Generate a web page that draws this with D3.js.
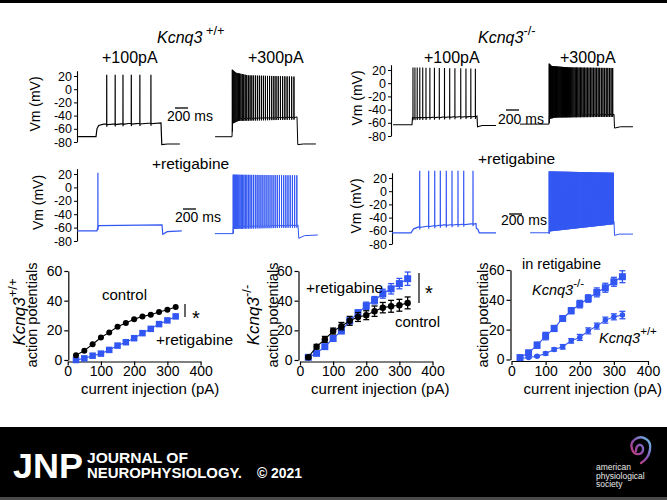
<!DOCTYPE html>
<html><head><meta charset="utf-8">
<script src="https://cdn.jsdelivr.net/npm/d3@7"></script>
<style>
body{margin:0;background:#fff}
svg{display:block}
text{font-family:"Liberation Sans",Arial,sans-serif;fill:#000;font-weight:normal}
</style>
</head><body>
<script>
// ================= DATA =================
// Bottom plots: number of action potentials vs current injection (pA)
const currentInj = [25,50,75,100,125,150,175,200,225,250,275,300,325];
const wtControlAP = [3.2,6.3,10.6,15.2,18.6,22.4,24.9,27.4,29.4,30.5,32.4,33.9,35.7];
const wtRetigAP   = [0,1.1,2.9,4.3,6.8,9.7,12,14.7,18.1,21,24.2,26.7,29.4];
const koControlAP  = [1.8,9,13.9,19.5,22.8,26.4,29,30.2,32.9,35.3,36.2,36.9,38.5];
const koControlSEM = [1,1.5,2,2,2.5,3,3,3,3.5,3.5,4,4,4];
const koRetigAP    = [1.8,4.5,9,14.5,19.7,26.4,31.8,36.5,40.3,44.7,48,51.5,54.8];
const koRetigSEM   = [1,1,1.5,1.5,2,2,2,2.5,2.5,3,3.5,3.5,4.5];
const retigKoAP    = [1.3,4.5,9.6,15.7,20.8,27.5,32.7,37.1,40.9,45,48.1,52.1,55.5];
const retigKoSEM   = [1,1.5,2,2.5,2,1.5,2,2.5,2.5,3,3,3,4];
const retigWtAP    = [0.7,1.3,2.2,4,6.7,8.5,12.5,14.8,19.2,22.4,26.4,28.6,29.8];
const retigWtSEM   = [0.5,0.5,0.5,1,1,1.5,1.5,2,2,2,2,2,2.5];
const apTicks = [0,20,40,60];
const currentTicks = [0,100,200,300,400];
const vmTicks = [20,0,-20,-40,-60,-80];

// Voltage traces: envelope knots [ms from step onset, mV], spike times (ms), peak knots [ms, mV]
const wt100Env = [[-275,-72],[0,-72],[15,-60],[40,-55],[120,-53],[500,-52],[1000,-51],[1012,-84],[1100,-83],[1290,-83]];
const wt100Spikes = [165,295,415,543,675,845];
const wt100Peak = [[0,22],[1000,22]];

const wt300Env = [[-260,-72],[0,-72],[10,-48],[100,-44],[1000,-42],[1012,-84],[1100,-83],[1290,-83]];
const wt300Spikes = [5,18,32,47,63,80,98,117,137,158,180,203,227,252,278,305,333,362,391,421,452,483,514,546,578,611,644,677,711,745,779,813,848,883,918,953];
const wt300Peak = [[0,30],[60,25],[250,21],[1000,19]];

const wtR100Env = [[-305,-65],[0,-65],[10,-60],[30,-57],[1000,-56],[1012,-70],[1080,-66],[1305,-65]];
const wtR100Spikes = [14];
const wtR100Peak = [[0,22],[1000,22]];

const wtR300Env = [[-280,-69],[0,-69],[8,-58],[1000,-56],[1012,-76],[1100,-72],[1305,-71]];
const wtR300Spikes = [3,15,28,42,57,73,90,108,127,147,168,190,213,237,262,288,315,343,371,400,430,460,491,522,553,585,617,649,681,714,747,780,813,846,880,914,948,982];
const wtR300Peak = [[0,19],[1000,18]];

const ko100Env = [[-292,-63],[0,-63],[8,-52],[1000,-50],[1008,-66],[1080,-64],[1292,-64]];
const ko100Spikes = [15,45,80,120,165,215,275,345,420,500,580,660,750,830,905,975];
const ko100Peak = [[0,24],[1000,22]];

const ko300Env = [[-446,-62],[0,-62],[6,-50],[100,-48],[1000,-47],[1008,-68],[1100,-66],[1292,-66]];
const ko300Spikes = [3,12,22,32,43,54,65,77,89,101,114,127,140,153,167,181,195,209,224,239,254,269,285,301,317,333,350,367,385,404,423,443,463,484,505,526,548,570,592,615,638,661,684,708,732,756,780,805,830,855,880,905,930,955,980];
const ko300Peak = [[0,30],[40,26],[300,24],[1000,23]];

const koR100Env = [[-292,-63],[0,-63],[40,-57],[120,-54],[500,-51],[1000,-49],[1005,-56],[1030,-58],[1050,-63],[1308,-63]];
const koR100Spikes = [134,272,365,451,543,631,723,811,954];
const koR100Peak = [[0,31],[1000,31]];

const koR300Env = [[-290,-63],[0,-63],[5,-57],[1000,-46],[1008,-67],[1080,-65],[1292,-65]];
const koR300Spikes = [2,12,23,33,44,55,65,76,87,98,109,119,130,141,152,163,174,185,196,207,218,229,240,251,262,273,284,296,307,318,329,340,351,363,374,385,396,407,419,430,441,452,463,475,486,497,508,520,531,542,553,565,576,587,598,610,621,632,643,655,666,677,688,700,711,722,733,745,756,767,778,790,801,812,823,835,846,857,868,880,891,902,913,925,936,947,958,970,981,992];
const koR300Peak = [[0,30],[1000,28]];

// ================= DRAW =================
const BLUE = "#3156f2";
const svg = d3.select("body").append("svg").attr("width",667).attr("height",500);
svg.append("rect").attr("width",667).attr("height",500).attr("fill","#fff");
svg.append("rect").attr("width",667).attr("height",3).attr("fill","#000");

const PXMS = 0.065; // px per ms (200 ms scale bar = 13 px)

function vmAxis(x, yTop20, yBot80, label, labelX) {
  const y = d3.scaleLinear().domain([-80,20]).range([yBot80, yTop20]);
  const yAx = d3.scaleLinear().domain([-80,28]).range([yBot80, y(28)]);
  const g = svg.append("g").attr("transform",`translate(${x},0)`)
    .call(d3.axisLeft(yAx).tickValues(vmTicks).tickSize(3).tickSizeOuter(0).tickPadding(2)
      .tickFormat(d=>d));
  g.selectAll("text").style("font-size","12.5px");
  g.select(".domain").attr("stroke-width",1.1);
  svg.append("text").attr("transform",`translate(${labelX},${(y(20)+y(-80))/2 - 5}) rotate(-90)`)
    .attr("text-anchor","middle").style("font-size","14px").text(label);
  return y;
}

function drawTrace(y, onsetX, env, spikes, peaks, color, w) {
  const x = t => onsetX + t*PXMS;
  const envS = d3.scaleLinear().domain(env.map(d=>d[0])).range(env.map(d=>d[1]));
  const pkS = d3.scaleLinear().domain(peaks.map(d=>d[0])).range(peaks.map(d=>d[1])).clamp(true);
  let pts = env.map(d=>[d[0],d[1]]);
  spikes.forEach(t=>{
    const b = envS(t);
    pts.push([t-0.6,b],[t,pkS(t)],[t+0.8,b-4],[t+2,b-1]);
  });
  pts.sort((a,b)=>a[0]-b[0]);
  const line = d3.line().x(d=>x(d[0])).y(d=>y(d[1]));
  svg.append("path").attr("d",line(pts)).attr("fill","none").attr("stroke",color)
    .attr("stroke-width",w).attr("stroke-linejoin","miter");
}

function scaleBar(textX, baseY, barY) {
  svg.append("text").attr("x",textX).attr("y",baseY).style("font-size","14px").text("200 ms");
  svg.append("line").attr("x1",textX+8).attr("x2",textX+8+200*PXMS).attr("y1",barY).attr("y2",barY)
    .attr("stroke","#000").attr("stroke-width",1.3);
}

function label(x,y,txt,size,anchor,opts={}) {
  const t = svg.append("text").attr("x",x).attr("y",y).style("font-size",size+"px")
    .attr("text-anchor",anchor||"start").text(txt);
  if (opts.italic) t.style("font-style","italic");
  return t;
}

// --- Titles ---
function genoTitle(x, y, sup, size) {
  const t = svg.append("text").attr("x",x).attr("y",y).attr("text-anchor","start")
    .style("font-size",size+"px");
  t.append("tspan").style("font-style","italic").text("Kcnq3");
  t.append("tspan").attr("dy",-8).style("font-size",(size*0.8)+"px").text(sup);
  return t;
}
genoTitle(157, 43, " +/+", 16);
genoTitle(478, 43, "-/-", 16);
label(102, 63, "+100pA", 16);
label(248, 63, "+300pA", 16);
label(424, 63, "+100pA", 16);
label(560, 63, "+300pA", 16);
label(152, 169, "+retigabine", 15.5);
label(478, 164, "+retigabine", 15.5);

// --- Traces panels ---
const yTL = vmAxis(77, 76, 142, "Vm (mV)", 40);
drawTrace(yTL, 96, wt100Env, wt100Spikes, wt100Peak, "#000", 1.2);
drawTrace(yTL, 232, wt300Env, wt300Spikes, wt300Peak, "#000", 1);
scaleBar(167, 121, 108);

const yTR = vmAxis(391, 70, 136, "Vm (mV)", 362);
drawTrace(yTR, 412, ko100Env, ko100Spikes, ko100Peak, "#000", 1.1);
drawTrace(yTR, 549, ko300Env, ko300Spikes, ko300Peak, "#000", 1);
scaleBar(498, 124, 110);

const yBL = vmAxis(77, 174, 241, "Vm (mV)", 43);
drawTrace(yBL, 97, wtR100Env, wtR100Spikes, wtR100Peak, BLUE, 1.2);
drawTrace(yBL, 233, wtR300Env, wtR300Spikes, wtR300Peak, BLUE, 1);
scaleBar(175, 222, 209);

const yBR = vmAxis(392, 178, 244, "Vm (mV)", 361);
drawTrace(yBR, 411, koR100Env, koR100Spikes, koR100Peak, BLUE, 1.2);
drawTrace(yBR, 549, koR300Env, koR300Spikes, koR300Peak, BLUE, 1);
scaleBar(501, 225, 214);

// --- Bottom plots ---
function plot(cfg) {
  const x = d3.scaleLinear().domain([0,400]).range([cfg.x0, cfg.x1]);
  const y = d3.scaleLinear().domain([0,60]).range([cfg.y0, cfg.y60]);
  const ya = svg.append("g").attr("transform",`translate(${cfg.yAxisX},0)`)
    .call(d3.axisLeft(y).tickValues(apTicks).tickSize(4).tickSizeOuter(0).tickPadding(2));
  const xa = svg.append("g").attr("transform",`translate(0,${cfg.y0+1.5})`)
    .call(d3.axisBottom(x).tickValues(currentTicks).tickSize(4).tickSizeOuter(0).tickPadding(1));
  [ya,xa].forEach(a=>{ a.selectAll("text").style("font-size","14px"); a.select(".domain").attr("stroke-width",1.2); a.selectAll(".tick line").attr("stroke-width",1.2);});
  svg.append("text").attr("transform",`translate(${cfg.ylabX},315) rotate(-90)`)
    .attr("text-anchor","middle").style("font-size","14.5px").text("action potentials");
  svg.append("text").attr("x",(cfg.x0+cfg.x1)/2 + cfg.xlabDx).attr("y",394).attr("text-anchor","middle")
    .style("font-size","15px").text("current injection (pA)");
  cfg.series.forEach(s=>{
    const line = d3.line().x((d,i)=>x(currentInj[i])).y(d=>y(d));
    svg.append("path").attr("d",line(s.values)).attr("fill","none").attr("stroke",s.color).attr("stroke-width",1.1);
    if (s.sem) {
      s.values.forEach((v,i)=>{
        const cx = x(currentInj[i]), e = s.sem[i];
        const g = svg.append("g").attr("stroke",s.color).attr("stroke-width",1.3);
        g.append("line").attr("x1",cx).attr("x2",cx).attr("y1",y(v-e)).attr("y2",y(v+e));
        g.append("line").attr("x1",cx-3).attr("x2",cx+3).attr("y1",y(v-e)).attr("y2",y(v-e));
        g.append("line").attr("x1",cx-3).attr("x2",cx+3).attr("y1",y(v+e)).attr("y2",y(v+e));
      });
    }
    s.values.forEach((v,i)=>{
      const cx = x(currentInj[i]), cy = y(v);
      if (s.shape==="square") svg.append("rect").attr("x",cx-s.size/2).attr("y",cy-s.size/2)
          .attr("width",s.size).attr("height",s.size).attr("fill",s.color);
      else svg.append("circle").attr("cx",cx).attr("cy",cy).attr("r",s.size/2).attr("fill",s.color);
    });
  });
}

plot({x0:67.7, x1:200.6, y0:360, y60:271, yAxisX:68.3, ylabX:37, xlabDx:16,
  series:[
    {values:wtRetigAP, color:BLUE, shape:"square", size:6.5},
    {values:wtControlAP, color:"#000", shape:"circle", size:6}
  ]});
plot({x0:300, x1:432.5, y0:360, y60:271, yAxisX:298.5, ylabX:278, xlabDx:14,
  series:[
    {values:koRetigAP, sem:koRetigSEM, color:BLUE, shape:"square", size:7},
    {values:koControlAP, sem:koControlSEM, color:"#000", shape:"circle", size:6.5}
  ]});
plot({x0:511.5, x1:648, y0:359.5, y60:270, yAxisX:510.5, ylabX:488, xlabDx:13,
  series:[
    {values:retigWtAP, sem:retigWtSEM, color:BLUE, shape:"circle", size:5.5},
    {values:retigKoAP, sem:retigKoSEM, color:BLUE, shape:"square", size:7}
  ]});

// rotated genotype labels for left side
function rotGeno(x, yMid, sup) {
  const t = svg.append("text").attr("transform",`translate(${x},${yMid}) rotate(-90)`)
    .attr("text-anchor","middle").style("font-size","17px");
  t.append("tspan").style("font-style","italic").text("Kcnq3");
  t.append("tspan").attr("dy",-8).style("font-size","13px").text(sup);
}
rotGeno(25, 312, "+/+");
rotGeno(259, 315, "-/-");

// annotations
label(102, 300, "control", 15);
label(156, 345, "+retigabine", 15.5);
svg.append("line").attr("x1",185).attr("x2",185).attr("y1",304).attr("y2",317).attr("stroke","#000").attr("stroke-width",1.2);
label(196, 325, "*", 20, "middle");

label(306, 293, "+retigabine", 15.5);
label(395, 327, "control", 15);
svg.append("line").attr("x1",419).attr("x2",419).attr("y1",273).attr("y2",303).attr("stroke","#000").attr("stroke-width",1.2);
label(429, 300, "*", 20, "middle");

label(522, 269, "in retigabine", 14.5);
genoTitle(532, 295, "-/-", 14.5);
genoTitle(599, 343, "+/+", 14.5);

// ================= FOOTER =================
svg.append("rect").attr("y",427).attr("width",667).attr("height",73).attr("fill","#000");
svg.append("rect").attr("y",497).attr("width",667).attr("height",3).attr("fill","#4a4a4a");
const ft = (x,y,txt,size,len) => {
  const t = svg.append("text").attr("x",x).attr("y",y).style("font-size",size+"px")
    .style("font-weight","bold").style("fill","#fff").text(txt);
  if (len) t.attr("textLength",len).attr("lengthAdjust","spacingAndGlyphs");
  return t;
};
ft(13, 478, "JNP", 35, 70);
ft(87, 462.5, "JOURNAL OF", 14, 101);
ft(87, 478.3, "NEUROPHYSIOLOGY.", 14, 155);
ft(257, 478, "© 2021", 15, 45);
["american","physiological","society"].forEach((s,i)=>{
  svg.append("text").attr("x",596).attr("y",470+i*8.5).style("font-size","8.5px").style("fill","#e8e8e8").text(s);
});
const defs = svg.append("defs");
const grad = defs.append("linearGradient").attr("id","apsg").attr("x1","1").attr("y1","0").attr("x2","0").attr("y2","1");
grad.append("stop").attr("offset","0").attr("stop-color","#67c3ea");
grad.append("stop").attr("offset","0.5").attr("stop-color","#8a4fb0");
grad.append("stop").attr("offset","1").attr("stop-color","#e3305c");
svg.append("path").attr("d","M641,463 C651,457 653,443 646,439 C639,434 629,441 632,449 C634,456 644,456 643,448 C642,443 636,444 636,451")
  .attr("fill","none").attr("stroke","url(#apsg)").attr("stroke-width",2.4).attr("stroke-linecap","round");
</script>
</body></html>
